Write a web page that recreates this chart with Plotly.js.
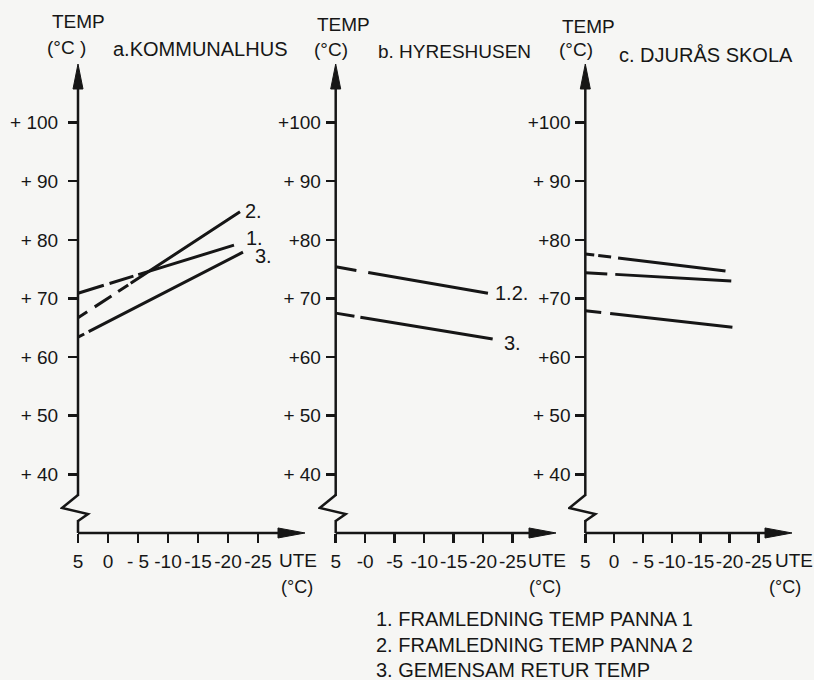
<!DOCTYPE html>
<html><head><meta charset="utf-8">
<script src="https://cdn.plot.ly/plotly-3.0.1.min.js"></script>
<style>html,body{margin:0;padding:0;background:#f6f6f4}</style>
</head><body><div id="chart" style="width:814px;height:680px"></div>
<script>
// ---- ticks ----
const xTickVals = [5, 0, -5, -10, -15, -20, -25];
const xTickTextA = ['5', '0', '- 5', '-10', '-15', '-20', '-25'];
const xTickTextB = ['5', '-0', '-5', '-10', '-15', '-20', '-25'];
const xTickTextC = ['5', '0', '- 5', '-10', '-15', '-20', '-25'];
const yTickVals = [40, 50, 60, 70, 80, 90, 100];
const yTickTextA = ['+ 40', '+ 50', '+ 60', '+ 70', '+ 80', '+ 90', '+ 100'];
const yTickTextB = ['+ 40', '+ 50', '+60', '+ 70', '+80', '+ 90', '+100'];
const yTickTextC = ['+ 40', '+ 50', '+60', '+70', '+80', '+ 90', '+100'];

// ---- a. KOMMUNALHUS (outdoor temp -> supply/return temp) ----
const aUte1 = [5, -21];   const aTemp1 = [70.9, 79.1];   // 1. framledning panna 1
const aUte2 = [5, -22];   const aTemp2 = [66.7, 84.8];   // 2. framledning panna 2
const aUte3 = [5, -22.5]; const aTemp3 = [63.4, 77.9];   // 3. gemensam retur
// ---- b. HYRESHUSEN ----
const bUte12 = [5, -20.8]; const bTemp12 = [75.4, 70.9]; // 1.2.
const bUte3 = [5, -21.6];  const bTemp3 = [67.5, 63.1];  // 3.
// ---- c. DJURÅS SKOLA ----
const cUteA = [5, -19.3]; const cTempA = [77.6, 74.7];
const cUteB = [5, -20.3]; const cTempB = [74.4, 73.0];
const cUteC = [5, -20.5]; const cTempC = [67.9, 65.1];

const W = 814, H = 680;
const px = v => v / W;
const py = v => 1 - v / H;
const INK = '#161616';
const BG = '#f6f6f4';
const TXT = 'Liberation Sans';
const YTICKFONT = {family: TXT, size: 19, color: INK};
const XTICKFONT = {family: TXT, size: 19, color: INK};

const yRange = [28, 110];
const yDom = [py(544.7), py(64)];
const panels = [
  {xa: 'x', ya: 'y', dom: [px(60), px(306)], range: [8, -33], tt: xTickTextA, yt: yTickTextA, ystand: 6},
  {xa: 'x2', ya: 'y2', dom: [px(318), px(557)], range: [8, -32.5], tt: xTickTextB, yt: yTickTextB, ystand: 1},
  {xa: 'x3', ya: 'y3', dom: [px(568), px(793)], range: [8, -31], tt: xTickTextC, yt: yTickTextC, ystand: 1}
];

function line(x, y, xa, ya, dash) {
  return {x: x, y: y, xaxis: xa, yaxis: ya, type: 'scatter', mode: 'lines',
    line: {color: INK, width: 3, dash: dash}, hoverinfo: 'skip'};
}

const data = [
  line(aUte1, aTemp1, 'x', 'y', '27px,6px,25px,5px,2000px'),
  line(aUte2, aTemp2, 'x', 'y', '11px,9px,20px,8px,12px,3px,2000px'),
  line(aUte3, aTemp3, 'x', 'y', '7px,5px,2000px'),
  line(bUte12, bTemp12, 'x2', 'y2', '21px,12px,2000px'),
  line(bUte3, bTemp3, 'x2', 'y2', '19px,6px,2000px'),
  line(cUteA, cTempA, 'x3', 'y3', '9px,4px,13px,7px,2000px'),
  line(cUteB, cTempB, 'x3', 'y3', '22px,8px,2000px'),
  line(cUteC, cTempC, 'x3', 'y3', '16px,9px,2000px')
];

const layout = {
  width: W, height: H,
  margin: {l: 0, r: 0, t: 0, b: 0},
  paper_bgcolor: BG, plot_bgcolor: 'rgba(0,0,0,0)',
  showlegend: false,
  shapes: [], annotations: []
};

panels.forEach((p, i) => {
  const sfx = i === 0 ? '' : String(i + 1);
  const x5pos = p.dom[0] + (p.range[0] - 5) / (p.range[0] - p.range[1]) * (p.dom[1] - p.dom[0]);
  const y30pos = yDom[0] + (30 - yRange[0]) / (yRange[1] - yRange[0]) * (yDom[1] - yDom[0]);
  layout['xaxis' + sfx] = {
    domain: p.dom, range: p.range, anchor: 'free', position: y30pos,
    showgrid: false, zeroline: false, showline: false,
    tickmode: 'array', tickvals: xTickVals, ticktext: p.tt, tickangle: 0,
    ticks: 'outside', ticklen: 9, tickwidth: 2.5, tickcolor: INK,
    tickfont: XTICKFONT, ticklabelstandoff: 2, fixedrange: true
  };
  layout['yaxis' + sfx] = {
    domain: yDom, range: yRange, anchor: 'free', position: x5pos,
    showgrid: false, zeroline: false, showline: false,
    tickmode: 'array', tickvals: yTickVals, ticktext: p.yt,
    ticks: 'outside', ticklen: 10, tickwidth: 2.5, tickcolor: INK,
    tickfont: YTICKFONT, ticklabelstandoff: p.ystand, fixedrange: true
  };
  const xEnd = p.range[1];
  const base = {xref: p.xa, yref: p.ya, layer: 'above'};
  // axis lines
  layout.shapes.push(Object.assign({}, base, {type: 'line', x0: 5, x1: 5, y0: 30, y1: 107,
    line: {color: INK, width: 2.5}}));
  layout.shapes.push(Object.assign({}, base, {type: 'line', x0: 5, x1: xEnd + 2, y0: 30, y1: 30,
    line: {color: INK, width: 2.5}}));
  // cover for axis break
  layout.shapes.push(Object.assign({}, base, {type: 'path', xsizemode: 'pixel', ysizemode: 'pixel',
    xanchor: 5, yanchor: 30, path: 'M-3,13 L3,13 L3,37 L-3,37 Z', fillcolor: BG, line: {width: 0}}));
  // zigzag break
  layout.shapes.push(Object.assign({}, base, {type: 'path', xsizemode: 'pixel', ysizemode: 'pixel',
    xanchor: 5, yanchor: 30, path: 'M0,12 L10,19 L-16,25 L0,38', line: {color: INK, width: 2.5}}));
  // arrowheads
  layout.shapes.push(Object.assign({}, base, {type: 'path', xsizemode: 'pixel', ysizemode: 'pixel',
    xanchor: 5, yanchor: 110, path: 'M0,0 L-5,-25 L5,-25 Z', fillcolor: INK, line: {color: INK, width: 1}}));
  layout.shapes.push(Object.assign({}, base, {type: 'path', xsizemode: 'pixel', ysizemode: 'pixel',
    xanchor: xEnd, yanchor: 30, path: 'M-1,0 L-28,-5 L-28,5 Z', fillcolor: INK, line: {color: INK, width: 1}}));
});

function ptext(text, x, y, size, anchor) {
  return {text: text, xref: 'paper', yref: 'paper', x: px(x), y: py(y), showarrow: false,
    xanchor: anchor || 'center', yanchor: 'middle',
    font: {family: TXT, size: size, color: INK}};
}
const A = layout.annotations;
// axis titles + panel titles
A.push(ptext('TEMP', 78, 22, 19));
A.push(ptext('(°C )', 66, 48, 19));
A.push(ptext('a.KOMMUNALHUS', 111, 49, 20, 'left'));
A.push(ptext('TEMP', 343, 25, 19));
A.push(ptext('(°C)', 331, 50, 19));
A.push(ptext('b. HYRESHUSEN', 376, 52, 19, 'left'));
A.push(ptext('TEMP', 588, 27, 19));
A.push(ptext('(°C)', 576, 50, 19));
A.push(ptext('c. DJURÅS SKOLA', 617, 55, 20, 'left'));
// x-axis titles
A.push(ptext('UTE', 298, 560, 19));
A.push(ptext('(°C)', 297, 587, 18));
A.push(ptext('UTE', 547, 560, 19));
A.push(ptext('(°C)', 545, 587, 18));
A.push(ptext('UTE', 794, 560, 19));
A.push(ptext('(°C)', 785, 587, 18));
// key
A.push(ptext('1. FRAMLEDNING TEMP PANNA 1', 374, 619, 20, 'left'));
A.push(ptext('2. FRAMLEDNING TEMP PANNA 2', 374, 645, 20, 'left'));
A.push(ptext('3. GEMENSAM RETUR TEMP', 374, 670, 20, 'left'));

// line-end labels
function endLabel(text, xs, ys, xa, ya, dx, dy) {
  return {text: text, xref: xa, yref: ya, x: xs[xs.length - 1], y: ys[ys.length - 1],
    showarrow: false, xanchor: 'left', yanchor: 'middle', xshift: dx, yshift: dy,
    font: {family: TXT, size: 20, color: INK}};
}
A.push(endLabel('2.', aUte2, aTemp2, 'x', 'y', 3, 1));
A.push(endLabel('1.', aUte1, aTemp1, 'x', 'y', 10, 7));
A.push(endLabel('3.', aUte3, aTemp3, 'x', 'y', 10, -4));
A.push(endLabel('1.2.', bUte12, bTemp12, 'x2', 'y2', 5, 0));
A.push(endLabel('3.', bUte3, bTemp3, 'x2', 'y2', 9, -4));

Plotly.newPlot('chart', data, layout, {staticPlot: true, displayModeBar: false});
</script>
</body></html>
